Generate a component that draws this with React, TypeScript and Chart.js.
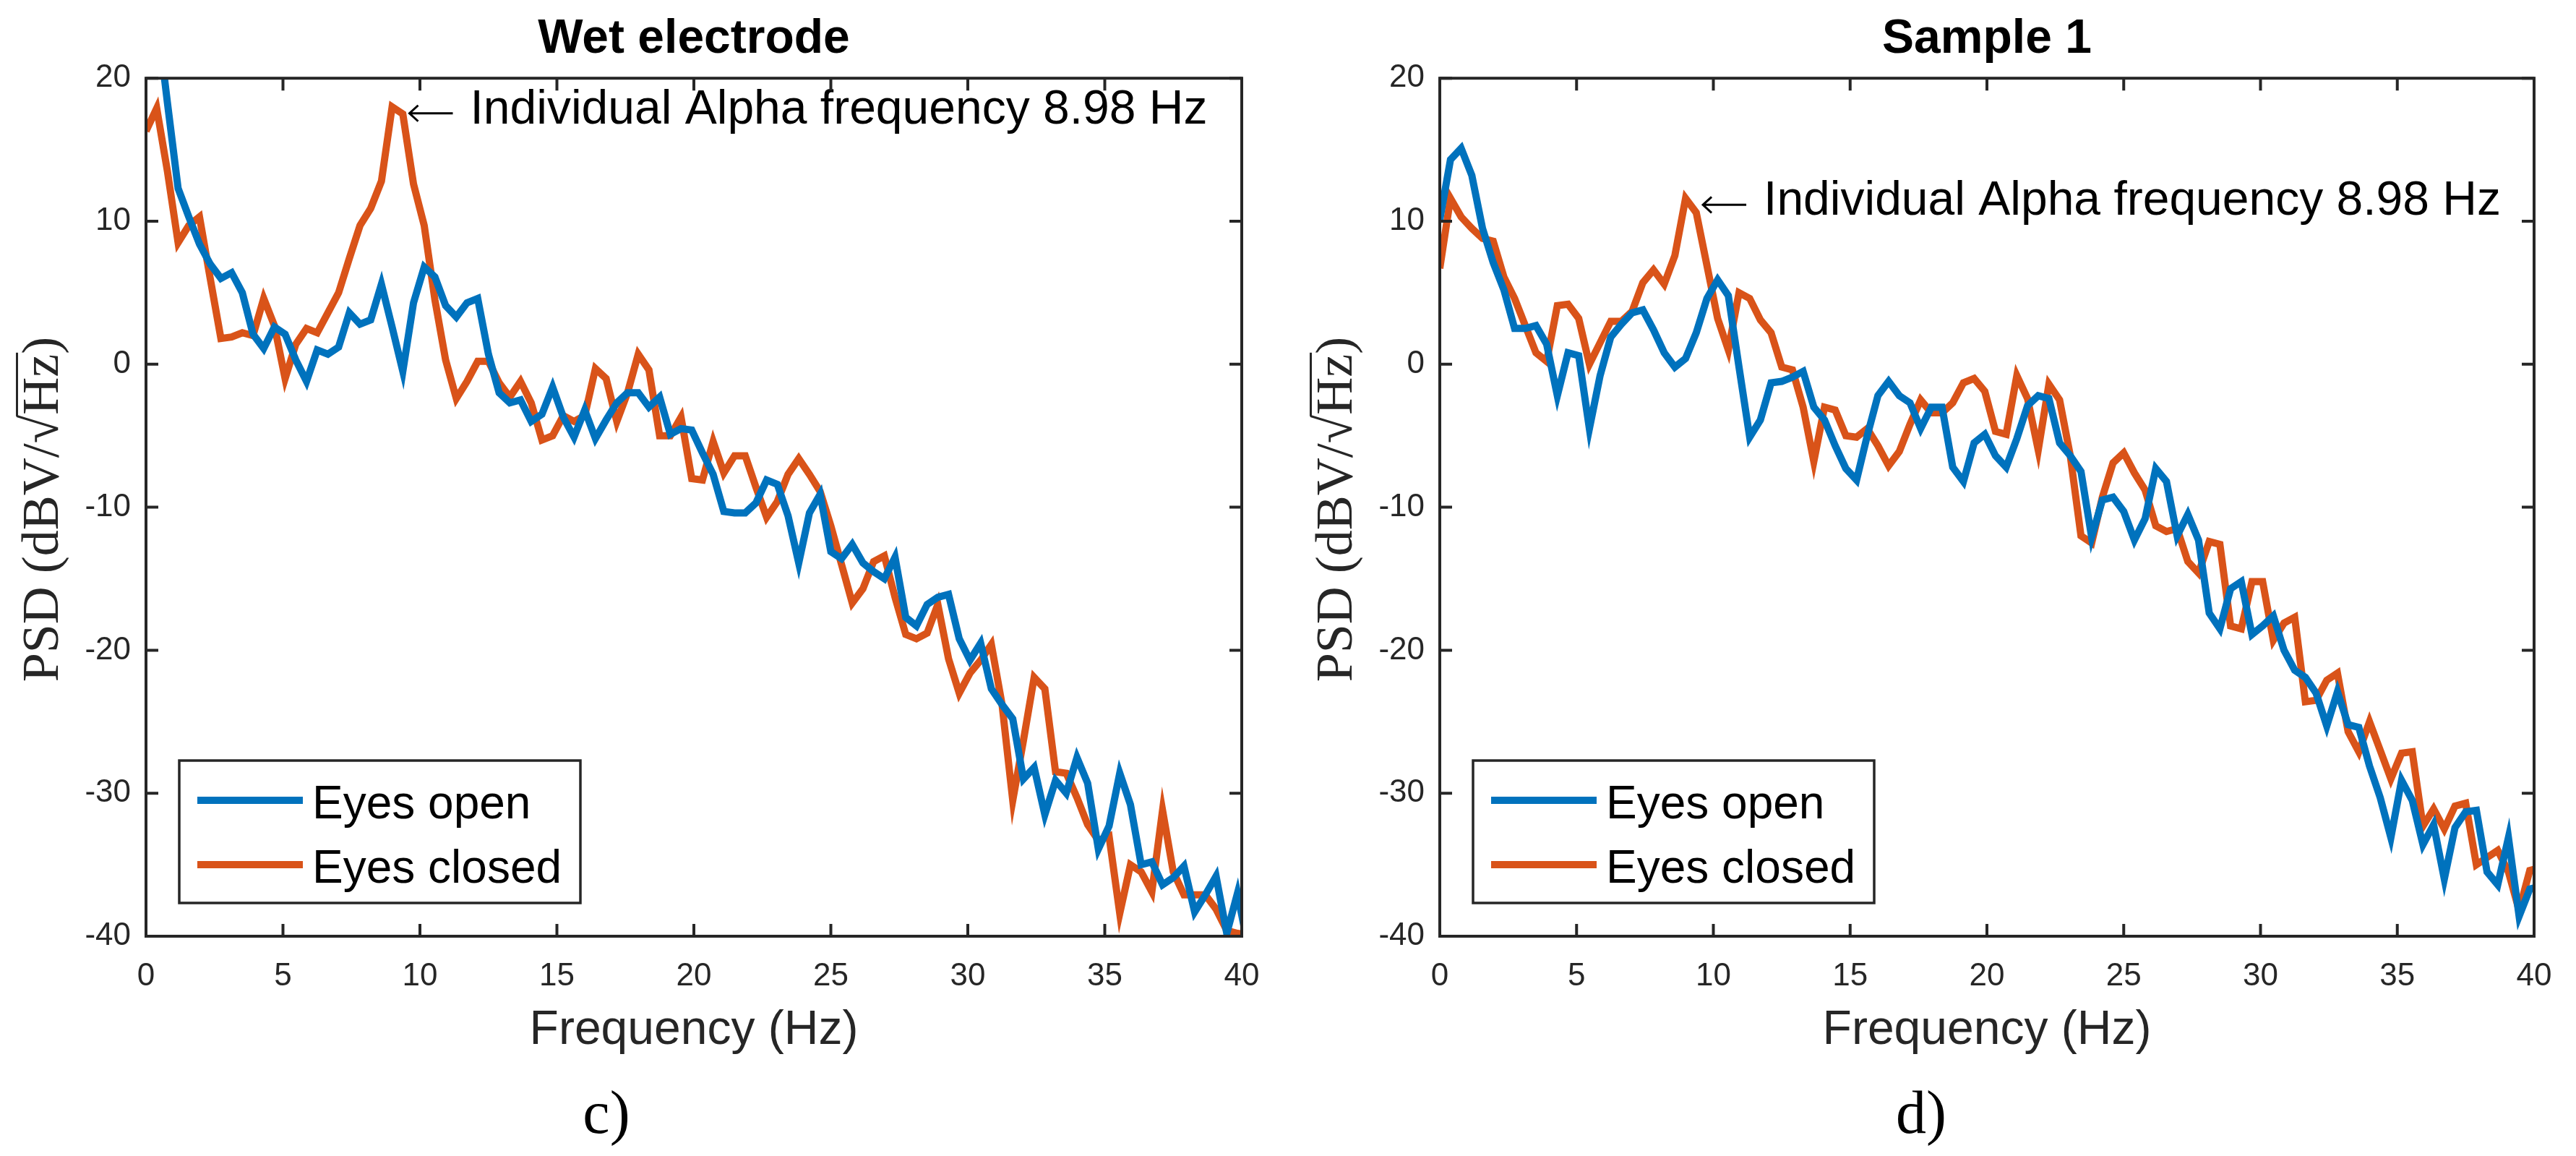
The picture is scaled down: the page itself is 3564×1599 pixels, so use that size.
import { useEffect, useRef } from "react"
import { Chart, registerables } from "chart.js"
import type { Plugin } from "chart.js"

Chart.register(...registerables)

// PSD bins: fs = 200 Hz, nfft = 512
const FREQ_STEP = 200 / 512
const ALPHA_BAND = [7, 13]

const X_TICKS = [0, 5, 10, 15, 20, 25, 30, 35, 40]
const Y_TICKS = [-40, -30, -20, -10, 0, 10, 20]

const SERIES_LABELS = ["Eyes open", "Eyes closed"]
const SERIES_COLORS = ["#0072BD", "#D95319"]

// wet electrode, dBV/sqrt(Hz), one value per bin
const WET_OPEN = [
  27.0, 24.5, 18.3, 12.3, 10.3, 8.4, 7.0, 6.0, 6.4, 5.0,
  2.1, 1.1, 2.6, 2.1, 0.3, -1.2, 1.0, 0.7, 1.2, 3.6,
  2.8, 3.1, 5.6, 2.6, -0.5, 4.3, 6.8, 6.1, 4.1, 3.3,
  4.3, 4.6, 0.7, -2.0, -2.7, -2.5, -4.0, -3.5, -1.6, -3.7,
  -5.1, -3.2, -5.2, -3.9, -2.7, -2.0, -2.0, -3.0, -2.3, -4.9,
  -4.5, -4.6, -6.2, -7.7, -10.3, -10.4, -10.4, -9.7, -8.1, -8.4,
  -10.6, -13.9, -10.4, -9.1, -13.1, -13.6, -12.6, -13.9, -14.5, -15.0,
  -13.5, -17.7, -18.3, -16.8, -16.3, -16.1, -19.2, -20.7, -19.5, -22.7,
  -23.8, -24.8, -29.0, -28.2, -31.5, -29.1, -30.0, -27.5, -29.3, -33.9,
  -32.3, -28.6, -30.8, -35.0, -34.8, -36.4, -35.9, -35.1, -38.3, -37.1,
  -35.8, -39.8, -37.0, -40.8,
]
const WET_CLOSED = [
  16.3, 17.9, 13.5, 8.5, 9.7, 10.3, 6.0, 1.8, 1.9, 2.2,
  2.0, 4.6, 2.7, -1.0, 1.4, 2.5, 2.2, 3.6, 5.0, 7.4,
  9.7, 10.9, 12.8, 18.0, 17.5, 12.6, 9.7, 4.5, 0.3, -2.4,
  -1.2, 0.2, 0.2, -1.3, -2.3, -1.2, -2.7, -5.3, -5.0, -3.6,
  -4.0, -3.6, -0.3, -1.0, -4.0, -2.0, 0.7, -0.4, -5.0, -5.0,
  -3.7, -8.0, -8.1, -5.4, -7.6, -6.4, -6.4, -8.6, -10.7, -9.6,
  -7.7, -6.6, -7.7, -8.9, -11.3, -14.0, -16.7, -15.7, -13.8, -13.4,
  -16.3, -18.9, -19.2, -18.8, -16.8, -20.6, -23.0, -21.6, -20.7, -19.6,
  -23.8, -30.5, -26.3, -21.9, -22.7, -28.5, -28.6, -30.3, -32.2, -33.3,
  -33.0, -38.4, -35.0, -35.5, -36.9, -31.2, -35.5, -37.1, -37.1, -37.1,
  -38.1, -39.6, -39.8, -39.9,
]

// sample 1
const SAMPLE_OPEN = [
  10.1, 14.3, 15.1, 13.2, 9.5, 7.1, 5.2, 2.5, 2.5, 2.7,
  1.4, -2.2, 0.8, 0.6, -4.5, -0.8, 1.9, 2.8, 3.6, 3.8,
  2.4, 0.8, -0.2, 0.4, 2.2, 4.6, 5.9, 4.8, -0.2, -5.1,
  -3.9, -1.3, -1.2, -0.9, -0.5, -3.0, -3.9, -5.7, -7.3, -8.1,
  -5.0, -2.2, -1.2, -2.2, -2.7, -4.5, -3.0, -3.0, -7.2, -8.2,
  -5.5, -4.9, -6.4, -7.2, -5.2, -2.9, -2.2, -2.4, -5.5, -6.4,
  -7.5, -12.1, -9.5, -9.3, -10.3, -12.3, -10.8, -7.3, -8.2, -12.0,
  -10.5, -12.3, -17.4, -18.5, -15.7, -15.2, -18.9, -18.3, -17.6, -20.0,
  -21.4, -21.9, -23.0, -25.3, -22.9, -25.2, -25.4, -28.1, -30.3, -33.1,
  -29.1, -30.5, -33.6, -32.2, -36.0, -32.4, -31.3, -31.2, -35.5, -36.4,
  -33.1, -38.6, -36.7, -36.5,
]
const SAMPLE_CLOSED = [
  6.7, 11.6, 10.3, 9.5, 8.8, 8.6, 6.1, 4.6, 2.7, 0.8,
  0.2, 4.1, 4.2, 3.2, 0.0, 1.5, 3.0, 3.0, 3.7, 5.7,
  6.6, 5.6, 7.6, 11.6, 10.6, 6.9, 3.2, 1.0, 5.0, 4.6,
  3.1, 2.2, -0.2, -0.4, -3.0, -6.8, -3.0, -3.2, -5.0, -5.1,
  -4.5, -5.7, -7.1, -6.1, -4.2, -2.5, -3.4, -3.4, -2.7, -1.3,
  -1.0, -1.9, -4.7, -4.9, -0.8, -2.4, -6.0, -1.4, -2.5, -6.4,
  -12.0, -12.5, -9.3, -6.9, -6.2, -7.6, -8.8, -11.3, -11.7, -11.5,
  -13.8, -14.6, -12.4, -12.6, -18.3, -18.5, -15.2, -15.2, -19.3, -18.1,
  -17.7, -23.6, -23.5, -22.1, -21.6, -25.7, -27.1, -25.0, -27.0, -29.0,
  -27.2, -27.1, -32.3, -31.1, -32.5, -30.9, -30.7, -35.0, -34.5, -34.0,
  -35.5, -38.2, -35.4, -35.2,
]

const AXIS_COLOR = "#262626"
const SANS = '"Liberation Sans", Arial, Helvetica, sans-serif'
const SERIF = '"Liberation Serif", "Times New Roman", serif'
const TICK_LEN = 17
const LINE_W = 10

function alphaPeak(values: number[]) {
  let best = -1
  values.forEach((v, i) => {
    const f = i * FREQ_STEP
    if (f < ALPHA_BAND[0] || f > ALPHA_BAND[1]) return
    if (best < 0 || v > values[best]) best = i
  })
  return best
}

interface PanelProps {
  title: string
  open: number[]
  closed: number[]
  left: number
  width: number
  padRight: number
}

function PsdPanel({ title, open, closed, left, width, padRight }: PanelProps) {
  const canvasRef = useRef<HTMLCanvasElement>(null)

  useEffect(() => {
    if (!canvasRef.current) return
    const peak = alphaPeak(closed)

    // axes box, inward ticks, legend, y label and the alpha note
    const decor: Plugin<"line"> = {
      id: "psdDecor",
      afterDraw(chart) {
        const { ctx, chartArea } = chart
        const { left: l, right: r, top: t, bottom: b } = chartArea
        const xs = chart.scales.x
        const ys = chart.scales.y
        ctx.save()

        // peak annotation
        const px = xs.getPixelForValue(peak * FREQ_STEP)
        const py = ys.getPixelForValue(closed[peak])
        const ax = px + 24
        const ay = py + 9
        ctx.strokeStyle = "#000"
        ctx.lineWidth = 3
        ctx.beginPath()
        ctx.moveTo(ax, ay)
        ctx.lineTo(ax + 60, ay)
        ctx.moveTo(ax + 12, ay - 11)
        ctx.lineTo(ax, ay)
        ctx.lineTo(ax + 12, ay + 11)
        ctx.stroke()
        ctx.fillStyle = "#000"
        ctx.font = `66px ${SANS}`
        ctx.textAlign = "left"
        ctx.textBaseline = "alphabetic"
        ctx.fillText(`Individual Alpha frequency ${(peak * FREQ_STEP).toFixed(2)} Hz`, px + 108, py + 23)

        // legend
        const bw = 555
        const bh = 197
        const bx = l + 46
        const by = b - 46 - bh
        ctx.fillStyle = "#fff"
        ctx.fillRect(bx, by, bw, bh)
        ctx.strokeStyle = AXIS_COLOR
        ctx.lineWidth = 3.5
        ctx.strokeRect(bx, by, bw, bh)
        chart.data.datasets.forEach((ds, i) => {
          const ly = by + 55 + i * 89
          ctx.strokeStyle = ds.borderColor as string
          ctx.lineWidth = LINE_W
          ctx.beginPath()
          ctx.moveTo(bx + 25, ly)
          ctx.lineTo(bx + 171, ly)
          ctx.stroke()
          ctx.fillStyle = "#000"
          ctx.font = `64px ${SANS}`
          ctx.fillText(ds.label as string, bx + 184, ly + 25)
        })

        // box and ticks on all four sides
        ctx.strokeStyle = AXIS_COLOR
        ctx.lineWidth = 4
        ctx.beginPath()
        X_TICKS.forEach((v) => {
          const x = xs.getPixelForValue(v)
          ctx.moveTo(x, b)
          ctx.lineTo(x, b - TICK_LEN)
          ctx.moveTo(x, t)
          ctx.lineTo(x, t + TICK_LEN)
        })
        Y_TICKS.forEach((v) => {
          const y = ys.getPixelForValue(v)
          ctx.moveTo(l, y)
          ctx.lineTo(l + TICK_LEN, y)
          ctx.moveTo(r, y)
          ctx.lineTo(r - TICK_LEN, y)
        })
        ctx.stroke()
        ctx.strokeRect(l, t, r - l, b - t)

        // y label, LaTeX style with a radical over Hz
        const pre = "PSD (dBV/"
        const rad = "\u221A"
        const full = pre + rad + "Hz)"
        ctx.translate(80, (t + b) / 2 + 3)
        ctx.rotate(-Math.PI / 2)
        ctx.font = `72px ${SERIF}`
        ctx.fillStyle = AXIS_COLOR
        const total = ctx.measureText(full).width
        const x0 = -total / 2
        ctx.fillText(full, x0, 0)
        const radM = ctx.measureText(rad)
        const barStart = x0 + ctx.measureText(pre).width + radM.width - 2
        const barEnd = barStart + ctx.measureText("Hz").width + 4
        const barY = -radM.actualBoundingBoxAscent + 1.5
        ctx.strokeStyle = AXIS_COLOR
        ctx.lineWidth = 3
        ctx.beginPath()
        ctx.moveTo(barStart, barY)
        ctx.lineTo(barEnd, barY)
        ctx.stroke()

        ctx.restore()
      },
    }

    const tickFont = { family: SANS, size: 44 }
    const chart = new Chart(canvasRef.current, {
      type: "line",
      data: {
        datasets: [open, closed].map((values, i) => ({
          label: SERIES_LABELS[i],
          data: values.map((v, k) => ({ x: k * FREQ_STEP, y: v })),
          borderColor: SERIES_COLORS[i],
          backgroundColor: SERIES_COLORS[i],
          borderWidth: LINE_W,
          pointRadius: 0,
          tension: 0,
          fill: false,
        })),
      },
      options: {
        animation: false,
        responsive: true,
        maintainAspectRatio: false,
        devicePixelRatio: 1,
        events: [],
        layout: { padding: { left: 0, right: padRight, top: 0, bottom: 0 } },
        plugins: {
          legend: { display: false },
          tooltip: { enabled: false },
          title: {
            display: true,
            text: title,
            fullSize: false,
            color: "#000",
            font: { family: SANS, size: 66, weight: "bold", lineHeight: 1.2 },
            padding: { top: 15, bottom: 14 },
          },
        },
        scales: {
          x: {
            type: "linear",
            min: 0,
            max: 40,
            afterBuildTicks: (axis) => {
              axis.ticks = X_TICKS.map((value) => ({ value }))
            },
            afterFit: (axis) => {
              axis.height = 304
            },
            grid: { display: false, drawTicks: false },
            border: { display: false },
            ticks: { color: AXIS_COLOR, font: tickFont, padding: 29, maxRotation: 0, autoSkip: false },
            title: {
              display: true,
              text: "Frequency (Hz)",
              color: AXIS_COLOR,
              font: { family: SANS, size: 66, lineHeight: 1.2 },
              padding: { top: 0, bottom: 134 },
            },
          },
          y: {
            type: "linear",
            min: -40,
            max: 20,
            afterBuildTicks: (axis) => {
              axis.ticks = Y_TICKS.map((value) => ({ value }))
            },
            afterFit: (axis) => {
              axis.width = 202
            },
            grid: { display: false, drawTicks: false },
            border: { display: false },
            ticks: { color: AXIS_COLOR, font: tickFont, padding: 21, autoSkip: false },
          },
        },
      },
      plugins: [decor],
    })

    return () => {
      chart.destroy()
    }
  }, [title, open, closed, padRight])

  return (
    <div style={{ position: "absolute", left, top: 0, width, height: 1599 }}>
      <canvas ref={canvasRef} />
    </div>
  )
}

const captionStyle = {
  position: "absolute" as const,
  top: 1497,
  width: 200,
  textAlign: "center" as const,
  font: `84px/1 ${SERIF}`,
  color: "#000",
}

export default function App() {
  return (
    <div
      style={{
        position: "absolute",
        left: 0,
        top: 0,
        width: 3564,
        height: 1599,
        background: "#fff",
        overflow: "hidden",
      }}
    >
      <PsdPanel title="Wet electrode" open={WET_OPEN} closed={WET_CLOSED} left={0} width={1782} padRight={64} />
      <PsdPanel title="Sample 1" open={SAMPLE_OPEN} closed={SAMPLE_CLOSED} left={1790} width={1774} padRight={58} />
      <div style={{ ...captionStyle, left: 739 }}>c)</div>
      <div style={{ ...captionStyle, left: 2558 }}>d)</div>
    </div>
  )
}
